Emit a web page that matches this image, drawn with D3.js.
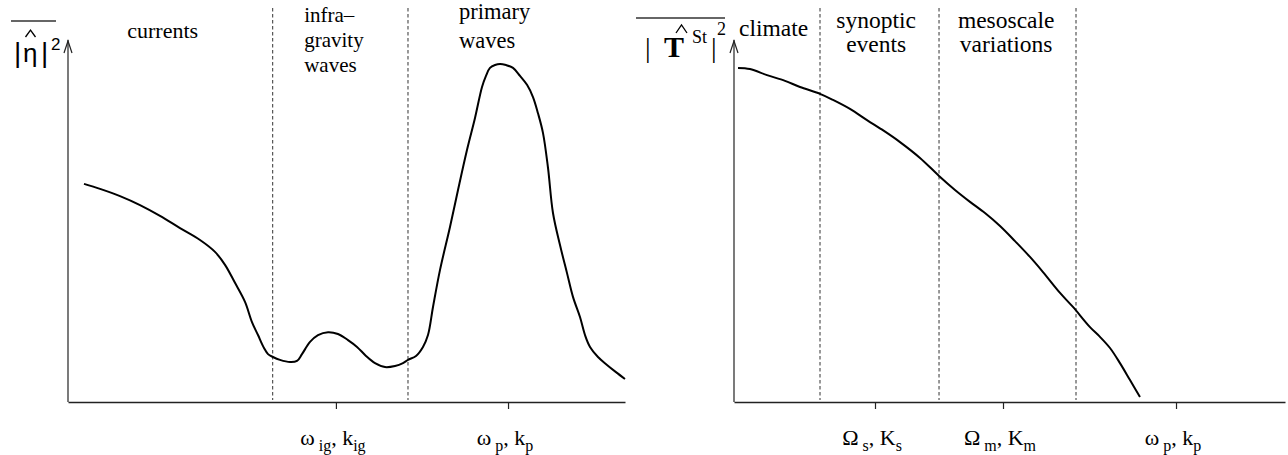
<!DOCTYPE html>
<html>
<head>
<meta charset="utf-8">
<script src="https://cdn.jsdelivr.net/npm/d3@7"></script>
<style>
  body { margin: 0; background: #fff; }
  svg { display: block; }
  text { font-family: "Liberation Serif", "Times New Roman", serif; fill: #000; }
</style>
</head>
<body>
<svg width="1288" height="455"></svg>
<script>
// schematic spectra, arbitrary units 0..100 on both axes

// left panel : surface elevation spectrum
var leftCurveX = [2.87, 5.75, 9.34, 12.93, 16.52, 20.11, 23.70, 26.39, 28.19, 29.98, 31.78, 33.03, 34.11, 35.19, 35.91, 36.80,
  38.06, 39.86, 41.11, 42.01, 43.45, 44.88, 46.68, 48.47, 50.27, 51.89, 53.50, 55.12, 56.91, 58.71, 60.14, 61.04,
  62.48, 63.73, 64.63, 65.53, 66.79, 68.58, 70.02, 71.63, 73.07, 74.33, 75.04, 75.76, 76.66, 77.56, 78.64, 79.89,
  81.15, 82.41, 83.48, 84.38, 85.28, 86.18, 87.07, 88.33, 89.59, 90.66, 91.92, 92.82, 93.72, 95.15, 96.77, 98.38, 100];
var leftCurveY = [60.6, 59.2, 57.2, 54.7, 51.7, 48.3, 45.0, 41.7, 38.1, 33.1, 27.8, 22.2, 18.6, 15.0, 13.3, 12.5,
  11.7, 11.1, 11.4, 13.3, 16.7, 18.6, 19.4, 18.9, 17.2, 15.3, 12.8, 10.8, 9.7, 10.0, 10.8, 11.7,
  12.8, 15.3, 18.6, 26.4, 36.7, 48.6, 58.9, 70.0, 78.9, 87.5, 90.6, 92.8, 93.6, 93.9, 93.6, 92.8,
  90.6, 88.1, 84.7, 80.2, 74.7, 65.0, 52.5, 43.6, 35.8, 29.2, 23.6, 18.6, 15.3, 12.5, 10.3, 8.3, 6.4];
var leftDividers = [36.75, 61.04];
var leftTicks = [48.1, 79.0];
var leftTickLabels = [["\u03C9", "ig", "k", "ig"], ["\u03C9", "p", "k", "p"]];
var leftRegions = [
  { x: 17.0, lines: ["currents"], anchor: "middle", size: 22, top: 38, step: 0 },
  { x: 42.4, lines: ["infra\u2013", "gravity", "waves"], anchor: "start", size: 21, top: 22, step: 25 },
  { x: 70.2, lines: ["primary", "waves"], anchor: "start", size: 22.5, top: 19, step: 29 }
];

// right panel : temperature spectrum
var rightCurveX = [0.73, 2.90, 5.99, 9.26, 11.98, 15.61, 17.97, 21.05, 24.14, 27.22, 30.13, 33.76, 37.21, 40.11,
  42.83, 45.55, 48.28, 51.00, 53.72, 56.08, 59.17, 61.52, 64.61, 66.42, 68.24, 70.05, 71.87, 73.68];
var rightCurveY = [92.8, 92.5, 90.8, 89.2, 87.5, 85.6, 83.9, 81.4, 78.3, 75.3, 72.2, 67.8, 62.8, 58.9,
  55.6, 52.5, 48.9, 44.7, 40.3, 36.1, 30.3, 26.4, 20.8, 18.1, 15.0, 10.8, 6.1, 1.4];
var rightDividers = [15.61, 37.21, 62.07];
var rightTicks = [25.59, 48.82, 80.22];
var rightTickLabels = [["\u03A9", "s", "K", "s"], ["\u03A9", "m", "K", "m"], ["\u03C9", "p", "k", "p"]];
var rightRegions = [
  { x: 0.9, lines: ["climate"], anchor: "start", size: 23.5, top: 36, step: 0 },
  { x: 25.8, lines: ["synoptic", "events"], anchor: "middle", size: 23.5, top: 28, step: 24 },
  { x: 49.4, lines: ["mesoscale", "variations"], anchor: "middle", size: 23.5, top: 28, step: 24 }
];

var svg = d3.select("svg");

var panels = [
  { x0: 68, x1: 625, cx: leftCurveX, cy: leftCurveY, div: leftDividers, ticks: leftTicks, tl: leftTickLabels, reg: leftRegions },
  { x0: 734, x1: 1285, cx: rightCurveX, cy: rightCurveY, div: rightDividers, ticks: rightTicks, tl: rightTickLabels, reg: rightRegions }
];
var yBottom = 402, yTop = 42;

panels.forEach(function(p){
  var x = d3.scaleLinear().domain([0, 100]).range([p.x0, p.x1]);
  var y = d3.scaleLinear().domain([0, 100]).range([yBottom, yTop]);
  var g = svg.append("g");

  // region dividers
  g.selectAll("line.div").data(p.div).enter().append("line")
    .attr("x1", function(d){ return x(d); })
    .attr("x2", function(d){ return x(d); })
    .attr("y1", 8)
    .attr("y2", y(0) - 2)
    .attr("stroke", "#333")
    .attr("stroke-width", 1)
    .attr("stroke-dasharray", "3.5,2.5");

  // x axis with ticks, labels drawn by hand because of subscripts
  var ax = g.append("g")
    .attr("transform", "translate(0," + y(0) + ")")
    .call(d3.axisBottom(x).tickValues(p.ticks).tickSize(7).tickSizeOuter(0).tickFormat(""));
  ax.select(".domain").attr("stroke", "#222").attr("stroke-width", 1.3);
  ax.selectAll(".tick line").attr("stroke", "#222").attr("stroke-width", 1.2);

  p.ticks.forEach(function(t, i){
    var lab = p.tl[i];
    var txt = g.append("text")
      .attr("x", x(t) - 3)
      .attr("y", y(0) + 43)
      .attr("text-anchor", "middle")
      .style("font-size", "22px");
    txt.append("tspan").text(lab[0]);
    txt.append("tspan").attr("dx", 4).attr("dy", 6).style("font-size", "16px").text(lab[1]);
    txt.append("tspan").attr("dy", -6).text(", ");
    txt.append("tspan").text(lab[2]);
    txt.append("tspan").attr("dy", 6).style("font-size", "16px").text(lab[3]);
  });

  // y axis with open arrow
  g.append("line")
    .attr("x1", x(0)).attr("x2", x(0))
    .attr("y1", y(0)).attr("y2", y(100) - 2)
    .attr("stroke", "#222").attr("stroke-width", 1.2);
  g.append("path")
    .attr("d", "M" + (x(0) - 4) + "," + (y(100) + 11) + "L" + x(0) + "," + (y(100) - 1) + "L" + (x(0) + 4) + "," + (y(100) + 11))
    .attr("fill", "none").attr("stroke", "#222").attr("stroke-width", 1.2);

  // the spectrum
  var pts = p.cx.map(function(v, i){ return [v, p.cy[i]]; });
  var line = d3.line()
    .x(function(d){ return x(d[0]); })
    .y(function(d){ return y(d[1]); })
    .curve(d3.curveCatmullRom.alpha(0.5));
  g.append("path")
    .attr("d", line(pts))
    .attr("fill", "none")
    .attr("stroke", "#000")
    .attr("stroke-width", 2);

  // region names
  p.reg.forEach(function(r){
    r.lines.forEach(function(s, k){
      g.append("text")
        .attr("x", x(r.x))
        .attr("y", r.top + k * r.step)
        .attr("text-anchor", r.anchor)
        .style("font-size", r.size + "px")
        .text(s);
    });
  });
});

// left y label  |eta hat|^2 with overbar
var sans = "'Liberation Sans', sans-serif";
var yl = svg.append("g");
yl.append("line").attr("x1", 11).attr("x2", 56).attr("y1", 21).attr("y2", 21).attr("stroke", "#333").attr("stroke-width", 1.3);
yl.append("text").attr("x", 14).attr("y", 62).style("font-family", sans).style("font-size", "28px").text("|");
yl.append("text").attr("x", 23).attr("y", 62).style("font-family", sans).style("font-size", "26px").text("\u03B7");
yl.append("text").attr("x", 41).attr("y", 62).style("font-family", sans).style("font-size", "28px").text("|");
yl.append("text").attr("x", 51).attr("y", 50).style("font-family", sans).style("font-size", "17px").text("2");
yl.append("path").attr("d", "M25.5,37 L30.5,30 L35.5,37").attr("fill", "none").attr("stroke", "#000").attr("stroke-width", 1.3);

// right y label  |T hat ^St|^2 with overbar
var yr = svg.append("g");
yr.append("line").attr("x1", 636).attr("x2", 725).attr("y1", 18).attr("y2", 18).attr("stroke", "#333").attr("stroke-width", 1.3);
yr.append("text").attr("x", 645).attr("y", 57).style("font-size", "28px").text("|");
yr.append("text").attr("x", 664).attr("y", 57).style("font-size", "30px").style("font-weight", "bold").text("T");
yr.append("text").attr("x", 692).attr("y", 43).style("font-size", "18px").text("St");
yr.append("text").attr("x", 711).attr("y", 57).style("font-size", "28px").text("|");
yr.append("text").attr("x", 717).attr("y", 35).style("font-size", "18px").text("2");
yr.append("path").attr("d", "M676,33 L681.5,25 L687,33").attr("fill", "none").attr("stroke", "#000").attr("stroke-width", 1.3);
</script>
</body>
</html>
